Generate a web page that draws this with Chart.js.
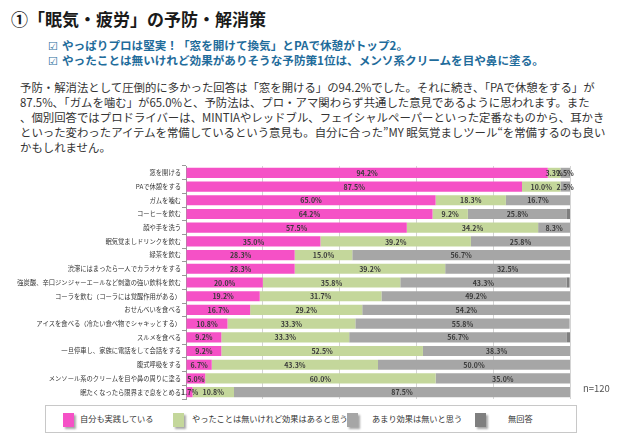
<!DOCTYPE html>
<html lang="ja">
<head>
<meta charset="utf-8">
<script src="https://cdn.jsdelivr.net/npm/chart.js@4.4.1/dist/chart.umd.min.js"></script>
<style>
  body { margin: 0; width: 640px; height: 435px; background: #fff; position: relative; overflow: hidden;
         font-family: "Noto Sans CJK JP", "Noto Sans", sans-serif; }
  #title { position: absolute; left: 11px; top: 6px; font-size: 17px; font-weight: bold; color: #1a1a1a; white-space: nowrap; }
  .sub { position: absolute; left: 48px; font-size: 11.6px; font-weight: bold; color: #1f6c9b; white-space: nowrap; }
  .sub span { margin-right: 4px; font-weight: normal; font-size: 11px; }
  #texto { position: absolute; left: 20px; top: 80px; font-size: 11.4px; line-height: 15px; color: #333; }
  #texto div { white-space: nowrap; }
  #wrap { position: absolute; left: 0; top: 160px; width: 640px; height: 245px; }
  #leyenda { position: absolute; left: 45px; top: 405px; width: 530px; height: 26px; border: 1px solid #c8c8c8; background: #fff; }
  .item { position: absolute; top: 5px; font-size: 8.2px; color: #333; white-space: nowrap; line-height: 14px; }
  .item i { display: inline-block; width: 11px; height: 14px; vertical-align: middle; margin-right: 6px; box-shadow: 2px 2px 2px rgba(0,0,0,0.35); }
  #n { position: absolute; left: 583px; top: 381px; font-size: 9.5px; color: #555; }
</style>
</head>
<body>
<div id="title">①「眠気・疲労」の予防・解消策</div>
<div class="sub" style="top:37px"><span>☑</span>やっぱりプロは堅実！「窓を開けて換気」とPAで休憩がトップ2。</div>
<div class="sub" style="top:52px"><span>☑</span>やったことは無いけれど効果がありそうな予防策1位は、メンソ系クリームを目や鼻に塗る。</div>
<div id="texto">
  <div>予防・解消法として圧倒的に多かった回答は「窓を開ける」の94.2%でした。それに続き、「PAで休憩をする」が</div>
  <div>87.5%、「ガムを噛む」が65.0%と、予防法は、プロ・アマ関わらず共通した意見であるように思われます。また</div>
  <div>、個別回答ではプロドライバーは、MINTIAやレッドブル、フェイシャルペーパーといった定番なものから、耳かき</div>
  <div>といった変わったアイテムを常備しているという意見も。自分に合った”MY 眠気覚ましツール“を常備するのも良い</div>
  <div>かもしれません。</div>
</div>
<div id="wrap"><canvas id="chart"></canvas></div>
<div id="n">n=120</div>
<div id="leyenda"></div>

<script>
// datos
const categorias = [
  '窓を開ける',
  'PAで休憩をする',
  'ガムを噛む',
  'コーヒーを飲む',
  '顔や手を洗う',
  '眠気覚ましドリンクを飲む',
  '緑茶を飲む',
  '渋滞にはまったら一人でカラオケをする',
  '強炭酸、辛口ジンジャーエールなど刺激の強い飲料を飲む',
  'コーラを飲む（コーラには覚醒作用がある）',
  'おせんべいを食べる',
  'アイスを食べる（冷たい食べ物でシャキッとする）',
  'スルメを食べる',
  '一旦停車し、家族に電話をして会話をする',
  '腹式呼吸をする',
  'メンソール系のクリームを目や鼻の周りに塗る',
  '眠たくなったら限界まで息をとめる'
];
const jissen  = [94.2, 87.5, 65.0, 64.2, 57.5, 35.0, 28.3, 28.3, 20.0, 19.2, 16.7, 10.8, 9.2, 9.2, 6.7, 5.0, 1.7];
const kouka   = [3.3, 10.0, 18.3, 9.2, 34.2, 39.2, 15.0, 39.2, 35.8, 31.7, 29.2, 33.3, 33.3, 52.5, 43.3, 60.0, 10.8];
const munashi = [2.5, 2.5, 16.7, 25.8, 8.3, 25.8, 56.7, 32.5, 43.3, 49.2, 54.2, 55.8, 56.7, 38.3, 50.0, 35.0, 87.5];
const mukaitou = [0, 0, 0, 0.8, 0, 0, 0, 0, 0.8, 0, 0, 0, 0.8, 0, 0, 0, 0];
const series = ['自分も実践している', 'やったことは無いけれど効果はあると思う', 'あまり効果は無いと思う', '無回答'];
const colores = ['#f551c6', '#c4d79b', '#a6a6a6', '#7f7f7f'];
const ticksX = [0, 20, 40, 60, 80, 100];

// leyenda (posiciones de layout)
const leyendaX = [17, 127, 301, 429];
const leyenda = document.getElementById('leyenda');
series.forEach((s, i) => {
  const d = document.createElement('div');
  d.className = 'item';
  d.style.left = leyendaX[i] + 'px';
  const sep = i === 3 ? '<span style="display:inline-block;width:16px"></span>' : (i === 2 ? '<span style="display:inline-block;width:8px"></span>' : (i === 1 ? '<span style="display:inline-block;width:2px"></span>' : ''));
  d.innerHTML = '<i style="background:' + colores[i] + '"></i>' + sep + s;
  leyenda.appendChild(d);
});

// etiquetas de valores
const etiquetas = {
  id: 'etiquetas',
  afterDatasetsDraw(chart) {
    const ctx = chart.ctx;
    ctx.save();
    ctx.font = 'bold 7px "Noto Sans CJK JP", sans-serif';
    ctx.fillStyle = '#3a3a3a';
    ctx.textAlign = 'center';
    ctx.textBaseline = 'middle';
    chart.data.datasets.forEach((ds, i) => {
      if (i === 3) return;
      chart.getDatasetMeta(i).data.forEach((bar, j) => {
        const v = ds.data[j];
        if (!v) return;
        ctx.fillText(v.toFixed(1) + '%', (bar.x + bar.base) / 2, bar.y + 0.5);
      });
    });
    ctx.restore();
  }
};

const datos = [jissen, kouka, munashi, mukaitou];

new Chart(document.getElementById('chart'), {
  type: 'bar',
  data: {
    labels: categorias,
    datasets: series.map((s, i) => ({
      label: s,
      data: datos[i],
      backgroundColor: colores[i],
      barPercentage: 0.74,
      categoryPercentage: 1
    }))
  },
  options: {
    indexAxis: 'y',
    responsive: true,
    maintainAspectRatio: false,
    animation: false,
    layout: { padding: { left: 0, right: 70, top: 6, bottom: 6 } },
    plugins: { legend: { display: false }, tooltip: { enabled: false } },
    scales: {
      x: {
        stacked: true,
        min: 0,
        max: 100,
        afterBuildTicks: (scale) => { scale.ticks = ticksX.map(v => ({ value: v })); },
        afterFit: (scale) => { scale.height = 0; },
        ticks: { display: false },
        grid: { color: '#d4d4d4', drawTicks: false },
        border: { display: false }
      },
      y: {
        stacked: true,
        afterFit: (scale) => { scale.width = 186; },
        ticks: {
          color: '#333',
          padding: 1,
          autoSkip: false,
          font: { size: 6.3, family: '"Noto Sans CJK JP", sans-serif' }
        },
        grid: { drawOnChartArea: false, drawTicks: true, tickLength: 4, color: '#999', offset: true },
        border: { color: '#999' }
      }
    }
  },
  plugins: [etiquetas]
});
</script>
</body>
</html>
